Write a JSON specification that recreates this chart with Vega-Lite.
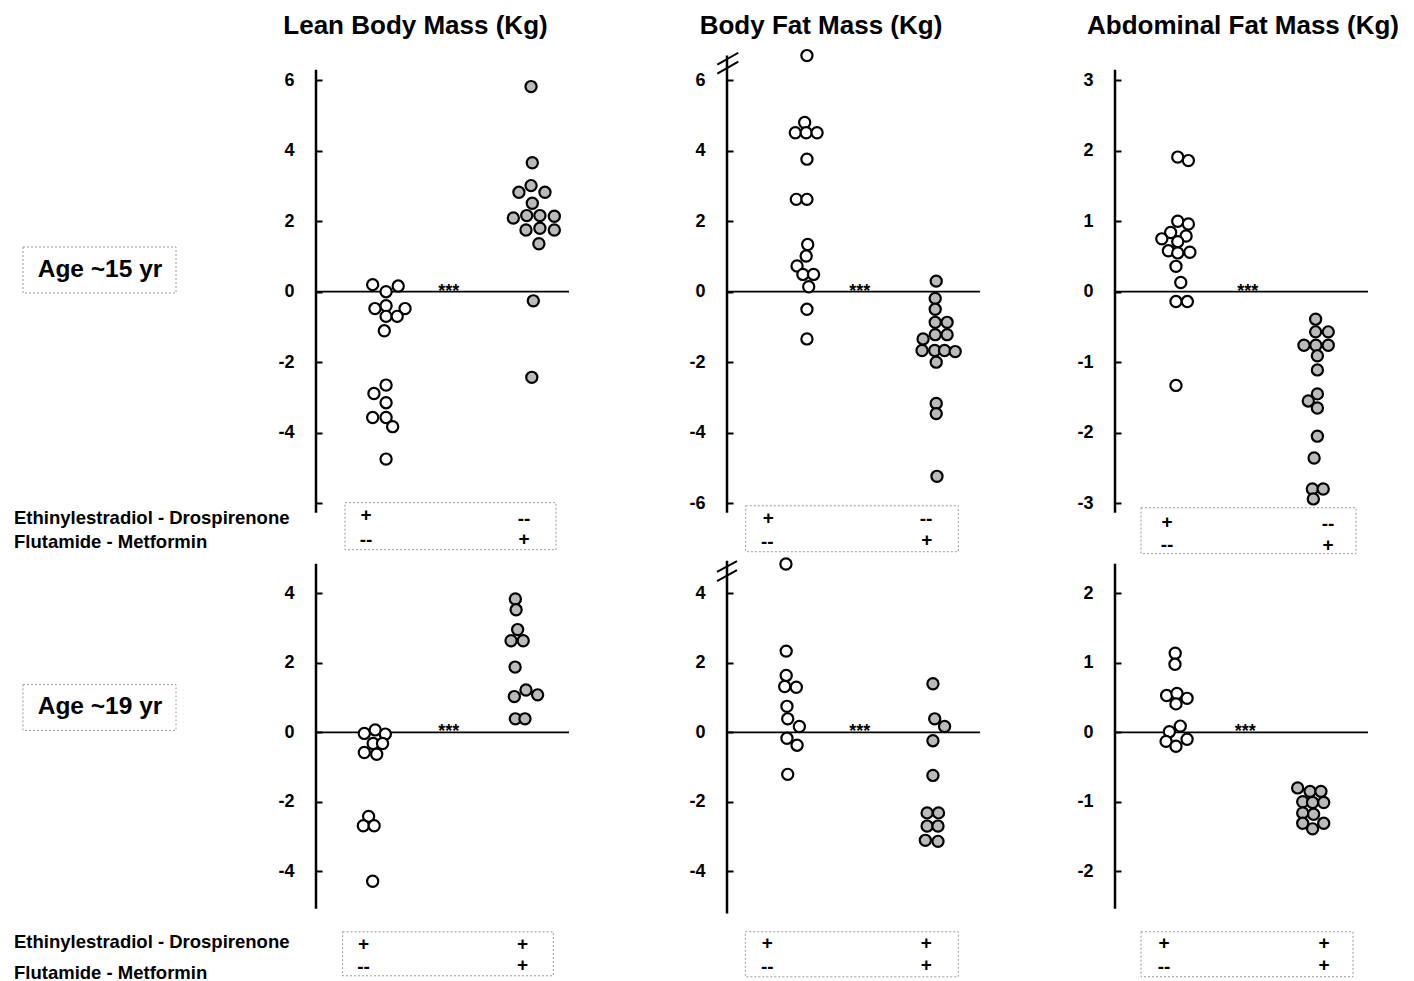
{
  "$schema": "https://vega.github.io/schema/vega-lite/v6.json",
  "background": "white",
  "padding": {"left": 0, "top": 13, "right": 0, "bottom": 0},
  "datasets": {
    "lean15": [
      {"treatment": "EE-DRSP", "pos": 2.24, "value": 0.20}, {"treatment": "EE-DRSP", "pos": 3.25, "value": 0.16},
      {"treatment": "EE-DRSP", "pos": 2.77, "value": 0.0}, {"treatment": "EE-DRSP", "pos": 2.33, "value": -0.48},
      {"treatment": "EE-DRSP", "pos": 2.77, "value": -0.40}, {"treatment": "EE-DRSP", "pos": 3.52, "value": -0.48},
      {"treatment": "EE-DRSP", "pos": 2.77, "value": -0.70}, {"treatment": "EE-DRSP", "pos": 3.21, "value": -0.70},
      {"treatment": "EE-DRSP", "pos": 2.70, "value": -1.11}, {"treatment": "EE-DRSP", "pos": 2.77, "value": -2.65},
      {"treatment": "EE-DRSP", "pos": 2.29, "value": -2.89}, {"treatment": "EE-DRSP", "pos": 2.77, "value": -3.15},
      {"treatment": "EE-DRSP", "pos": 2.24, "value": -3.57}, {"treatment": "EE-DRSP", "pos": 2.77, "value": -3.57},
      {"treatment": "EE-DRSP", "pos": 3.03, "value": -3.83}, {"treatment": "EE-DRSP", "pos": 2.77, "value": -4.75},
      {"treatment": "FLU-MET", "pos": 8.50, "value": 5.82}, {"treatment": "FLU-MET", "pos": 8.55, "value": 3.66},
      {"treatment": "FLU-MET", "pos": 8.50, "value": 3.01}, {"treatment": "FLU-MET", "pos": 8.02, "value": 2.82},
      {"treatment": "FLU-MET", "pos": 9.05, "value": 2.82}, {"treatment": "FLU-MET", "pos": 8.55, "value": 2.51},
      {"treatment": "FLU-MET", "pos": 7.80, "value": 2.09}, {"treatment": "FLU-MET", "pos": 8.33, "value": 2.16},
      {"treatment": "FLU-MET", "pos": 8.85, "value": 2.16}, {"treatment": "FLU-MET", "pos": 9.42, "value": 2.14},
      {"treatment": "FLU-MET", "pos": 8.30, "value": 1.75}, {"treatment": "FLU-MET", "pos": 8.85, "value": 1.80},
      {"treatment": "FLU-MET", "pos": 9.42, "value": 1.75}, {"treatment": "FLU-MET", "pos": 8.81, "value": 1.36},
      {"treatment": "FLU-MET", "pos": 8.59, "value": -0.26}, {"treatment": "FLU-MET", "pos": 8.53, "value": -2.43}
    ],
    "fat15": [
      {"treatment": "EE-DRSP", "pos": 3.16, "value": 6.7}, {"treatment": "EE-DRSP", "pos": 3.07, "value": 4.80},
      {"treatment": "EE-DRSP", "pos": 2.70, "value": 4.51}, {"treatment": "EE-DRSP", "pos": 3.13, "value": 4.51},
      {"treatment": "EE-DRSP", "pos": 3.56, "value": 4.51}, {"treatment": "EE-DRSP", "pos": 3.16, "value": 3.76},
      {"treatment": "EE-DRSP", "pos": 2.74, "value": 2.62}, {"treatment": "EE-DRSP", "pos": 3.16, "value": 2.62},
      {"treatment": "EE-DRSP", "pos": 3.19, "value": 1.34}, {"treatment": "EE-DRSP", "pos": 3.13, "value": 1.01},
      {"treatment": "EE-DRSP", "pos": 2.77, "value": 0.73}, {"treatment": "EE-DRSP", "pos": 3.00, "value": 0.49},
      {"treatment": "EE-DRSP", "pos": 3.42, "value": 0.49}, {"treatment": "EE-DRSP", "pos": 3.23, "value": 0.14},
      {"treatment": "EE-DRSP", "pos": 3.16, "value": -0.50}, {"treatment": "EE-DRSP", "pos": 3.16, "value": -1.34},
      {"treatment": "FLU-MET", "pos": 8.27, "value": 0.30}, {"treatment": "FLU-MET", "pos": 8.23, "value": -0.19},
      {"treatment": "FLU-MET", "pos": 8.23, "value": -0.50}, {"treatment": "FLU-MET", "pos": 8.23, "value": -0.87},
      {"treatment": "FLU-MET", "pos": 8.70, "value": -0.87}, {"treatment": "FLU-MET", "pos": 7.75, "value": -1.34},
      {"treatment": "FLU-MET", "pos": 8.23, "value": -1.22}, {"treatment": "FLU-MET", "pos": 8.70, "value": -1.22},
      {"treatment": "FLU-MET", "pos": 7.71, "value": -1.67}, {"treatment": "FLU-MET", "pos": 8.21, "value": -1.67},
      {"treatment": "FLU-MET", "pos": 8.60, "value": -1.67}, {"treatment": "FLU-MET", "pos": 9.02, "value": -1.70},
      {"treatment": "FLU-MET", "pos": 8.27, "value": -2.00}, {"treatment": "FLU-MET", "pos": 8.27, "value": -3.17},
      {"treatment": "FLU-MET", "pos": 8.27, "value": -3.46}, {"treatment": "FLU-MET", "pos": 8.30, "value": -5.24}
    ],
    "abd15": [
      {"treatment": "EE-DRSP", "pos": 2.48, "value": 1.91}, {"treatment": "EE-DRSP", "pos": 2.90, "value": 1.86},
      {"treatment": "EE-DRSP", "pos": 2.48, "value": 1.00}, {"treatment": "EE-DRSP", "pos": 2.90, "value": 0.96},
      {"treatment": "EE-DRSP", "pos": 2.20, "value": 0.84}, {"treatment": "EE-DRSP", "pos": 2.81, "value": 0.79},
      {"treatment": "EE-DRSP", "pos": 1.85, "value": 0.75}, {"treatment": "EE-DRSP", "pos": 2.48, "value": 0.71},
      {"treatment": "EE-DRSP", "pos": 2.11, "value": 0.58}, {"treatment": "EE-DRSP", "pos": 2.48, "value": 0.55},
      {"treatment": "EE-DRSP", "pos": 2.96, "value": 0.56}, {"treatment": "EE-DRSP", "pos": 2.41, "value": 0.36},
      {"treatment": "EE-DRSP", "pos": 2.60, "value": 0.13}, {"treatment": "EE-DRSP", "pos": 2.41, "value": -0.14},
      {"treatment": "EE-DRSP", "pos": 2.86, "value": -0.14}, {"treatment": "EE-DRSP", "pos": 2.41, "value": -1.33},
      {"treatment": "FLU-MET", "pos": 7.93, "value": -0.39}, {"treatment": "FLU-MET", "pos": 7.93, "value": -0.57},
      {"treatment": "FLU-MET", "pos": 8.43, "value": -0.57}, {"treatment": "FLU-MET", "pos": 7.47, "value": -0.76},
      {"treatment": "FLU-MET", "pos": 7.94, "value": -0.76}, {"treatment": "FLU-MET", "pos": 8.43, "value": -0.76},
      {"treatment": "FLU-MET", "pos": 8.00, "value": -0.91}, {"treatment": "FLU-MET", "pos": 8.00, "value": -1.11},
      {"treatment": "FLU-MET", "pos": 8.00, "value": -1.45}, {"treatment": "FLU-MET", "pos": 7.64, "value": -1.55},
      {"treatment": "FLU-MET", "pos": 8.00, "value": -1.65}, {"treatment": "FLU-MET", "pos": 8.00, "value": -2.05},
      {"treatment": "FLU-MET", "pos": 7.87, "value": -2.36}, {"treatment": "FLU-MET", "pos": 7.80, "value": -2.80},
      {"treatment": "FLU-MET", "pos": 8.23, "value": -2.80}, {"treatment": "FLU-MET", "pos": 7.84, "value": -2.94}
    ],
    "lean19": [
      {"treatment": "EE-DRSP", "pos": 1.91, "value": -0.03}, {"treatment": "EE-DRSP", "pos": 2.34, "value": 0.07},
      {"treatment": "EE-DRSP", "pos": 2.74, "value": -0.05}, {"treatment": "EE-DRSP", "pos": 2.26, "value": -0.32},
      {"treatment": "EE-DRSP", "pos": 2.63, "value": -0.32}, {"treatment": "EE-DRSP", "pos": 1.91, "value": -0.58},
      {"treatment": "EE-DRSP", "pos": 2.40, "value": -0.63}, {"treatment": "EE-DRSP", "pos": 2.08, "value": -2.42},
      {"treatment": "EE-DRSP", "pos": 1.87, "value": -2.69}, {"treatment": "EE-DRSP", "pos": 2.30, "value": -2.69},
      {"treatment": "EE-DRSP", "pos": 2.24, "value": -4.29},
      {"treatment": "EE-DRSP + FLU-MET", "pos": 7.88, "value": 3.84}, {"treatment": "EE-DRSP + FLU-MET", "pos": 7.91, "value": 3.53},
      {"treatment": "EE-DRSP + FLU-MET", "pos": 7.97, "value": 2.96}, {"treatment": "EE-DRSP + FLU-MET", "pos": 7.71, "value": 2.64},
      {"treatment": "EE-DRSP + FLU-MET", "pos": 8.19, "value": 2.64}, {"treatment": "EE-DRSP + FLU-MET", "pos": 7.87, "value": 1.88},
      {"treatment": "EE-DRSP + FLU-MET", "pos": 8.30, "value": 1.22}, {"treatment": "EE-DRSP + FLU-MET", "pos": 7.84, "value": 1.03},
      {"treatment": "EE-DRSP + FLU-MET", "pos": 8.76, "value": 1.08}, {"treatment": "EE-DRSP + FLU-MET", "pos": 7.88, "value": 0.39},
      {"treatment": "EE-DRSP + FLU-MET", "pos": 8.26, "value": 0.39}
    ],
    "fat19": [
      {"treatment": "EE-DRSP", "pos": 2.33, "value": 4.85}, {"treatment": "EE-DRSP", "pos": 2.34, "value": 2.34},
      {"treatment": "EE-DRSP", "pos": 2.34, "value": 1.64}, {"treatment": "EE-DRSP", "pos": 2.28, "value": 1.32},
      {"treatment": "EE-DRSP", "pos": 2.74, "value": 1.30}, {"treatment": "EE-DRSP", "pos": 2.37, "value": 0.75},
      {"treatment": "EE-DRSP", "pos": 2.40, "value": 0.39}, {"treatment": "EE-DRSP", "pos": 2.86, "value": 0.17},
      {"treatment": "EE-DRSP", "pos": 2.37, "value": -0.17}, {"treatment": "EE-DRSP", "pos": 2.77, "value": -0.37},
      {"treatment": "EE-DRSP", "pos": 2.40, "value": -1.21},
      {"treatment": "EE-DRSP + FLU-MET", "pos": 8.14, "value": 1.40}, {"treatment": "EE-DRSP + FLU-MET", "pos": 8.21, "value": 0.39},
      {"treatment": "EE-DRSP + FLU-MET", "pos": 8.60, "value": 0.17}, {"treatment": "EE-DRSP + FLU-MET", "pos": 8.14, "value": -0.24},
      {"treatment": "EE-DRSP + FLU-MET", "pos": 8.14, "value": -1.24}, {"treatment": "EE-DRSP + FLU-MET", "pos": 7.91, "value": -2.32},
      {"treatment": "EE-DRSP + FLU-MET", "pos": 8.36, "value": -2.32}, {"treatment": "EE-DRSP + FLU-MET", "pos": 7.91, "value": -2.70},
      {"treatment": "EE-DRSP + FLU-MET", "pos": 8.34, "value": -2.70}, {"treatment": "EE-DRSP + FLU-MET", "pos": 7.84, "value": -3.11},
      {"treatment": "EE-DRSP + FLU-MET", "pos": 8.34, "value": -3.14}
    ],
    "abd19": [
      {"treatment": "EE-DRSP", "pos": 2.38, "value": 1.14}, {"treatment": "EE-DRSP", "pos": 2.37, "value": 0.98},
      {"treatment": "EE-DRSP", "pos": 2.04, "value": 0.53}, {"treatment": "EE-DRSP", "pos": 2.45, "value": 0.56},
      {"treatment": "EE-DRSP", "pos": 2.85, "value": 0.49}, {"treatment": "EE-DRSP", "pos": 2.41, "value": 0.41},
      {"treatment": "EE-DRSP", "pos": 2.58, "value": 0.09}, {"treatment": "EE-DRSP", "pos": 2.15, "value": 0.01},
      {"treatment": "EE-DRSP", "pos": 2.85, "value": -0.10}, {"treatment": "EE-DRSP", "pos": 2.02, "value": -0.13},
      {"treatment": "EE-DRSP", "pos": 2.41, "value": -0.20},
      {"treatment": "EE-DRSP + FLU-MET", "pos": 7.22, "value": -0.80}, {"treatment": "EE-DRSP + FLU-MET", "pos": 7.71, "value": -0.85},
      {"treatment": "EE-DRSP + FLU-MET", "pos": 8.14, "value": -0.85}, {"treatment": "EE-DRSP + FLU-MET", "pos": 7.42, "value": -1.00},
      {"treatment": "EE-DRSP + FLU-MET", "pos": 7.81, "value": -1.01}, {"treatment": "EE-DRSP + FLU-MET", "pos": 8.25, "value": -1.01},
      {"treatment": "EE-DRSP + FLU-MET", "pos": 7.42, "value": -1.16}, {"treatment": "EE-DRSP + FLU-MET", "pos": 7.85, "value": -1.18},
      {"treatment": "EE-DRSP + FLU-MET", "pos": 7.42, "value": -1.31}, {"treatment": "EE-DRSP + FLU-MET", "pos": 8.25, "value": -1.31},
      {"treatment": "EE-DRSP + FLU-MET", "pos": 7.81, "value": -1.39}
    ]
  },
  "columns": 4,
  "spacing": {"row": 0, "column": 130},
  "bounds": "flush",
  "align": "each",
  "resolve": {"scale": {"x": "independent", "y": "independent", "color": "independent"}, "axis": {"x": "independent", "y": "independent"}},
  "concat": [
    {
      "width": 186, "height": 511,
      "layer": [
        {"data": {"values": [{}]}, "mark": {"type": "rect", "filled": false, "stroke": "#9a9a9a", "strokeDash": [2, 2], "strokeWidth": 1},
         "encoding": {"x": {"datum": 23, "type": "quantitative", "scale": {"domain": [0, 186], "nice": false, "zero": false}, "axis": null}, "x2": {"datum": 176}, "y": {"datum": 1.268, "type": "quantitative", "scale": {"domain": [-7.5, 7.0], "nice": false, "zero": false}, "axis": null}, "y2": {"datum": -0.037}}},
        {"data": {"values": [{"label": "Age ~15 yr"}]}, "mark": {"type": "text", "fontSize": 24.5, "fontWeight": "bold", "align": "center", "baseline": "middle"},
         "encoding": {"x": {"datum": 100, "type": "quantitative"}, "y": {"datum": 0.616, "type": "quantitative"}, "text": {"field": "label"}}},
        {"data": {"values": [{"label": "Ethinylestradiol - Drospirenone", "line": 1}]}, "mark": {"type": "text", "fontSize": 18.5, "fontWeight": "bold", "align": "left", "baseline": "middle"},
         "encoding": {"x": {"datum": 14, "type": "quantitative"}, "y": {"datum": -6.42, "type": "quantitative"}, "text": {"field": "label"}}},
        {"data": {"values": [{"label": "Flutamide - Metformin", "line": 2}]}, "mark": {"type": "text", "fontSize": 18.5, "fontWeight": "bold", "align": "left", "baseline": "middle"},
         "encoding": {"x": {"datum": 14, "type": "quantitative"}, "y": {"datum": -7.10, "type": "quantitative"}, "text": {"field": "label"}}}
      ]
    },
    {
      "width": 281, "height": 511,
      "title": {"text": "Lean Body Mass (Kg)", "dx": -41},
      "layer": [
        {"data": {"values": [{}]}, "mark": {"type": "rule", "color": "black", "strokeWidth": 2.5}, "encoding": {"x": {"datum": 0, "type": "quantitative"}, "y": {"datum": -6.27, "type": "quantitative"}, "y2": {"datum": 6.3}}},
        {"data": {"values": [{}]}, "mark": {"type": "rule", "color": "black", "strokeWidth": 1.8}, "encoding": {"x": {"datum": 0, "type": "quantitative"}, "x2": {"datum": 10}, "y": {"datum": 0, "type": "quantitative"}}},
        {"data": {"values": [{}]}, "mark": {"type": "text", "text": "***", "fontSize": 18, "fontWeight": "bold", "baseline": "alphabetic", "dy": 5}, "encoding": {"x": {"datum": 5.25, "type": "quantitative"}, "y": {"datum": 0, "type": "quantitative"}}},
        {"data": {"values": [{}]}, "mark": {"type": "rect", "filled": false, "stroke": "#9a9a9a", "strokeDash": [2, 2], "strokeWidth": 1}, "encoding": {"x": {"datum": 1.146, "type": "quantitative"}, "x2": {"datum": 9.486}, "y": {"datum": -5.987, "type": "quantitative"}, "y2": {"datum": -7.321}}},
        {"data": {"values": [{}]}, "mark": {"type": "text", "text": "+", "fontSize": 19, "fontWeight": "bold", "baseline": "middle"}, "encoding": {"x": {"datum": 1.976, "type": "quantitative"}, "y": {"datum": -6.33, "type": "quantitative"}}},
        {"data": {"values": [{}]}, "mark": {"type": "text", "text": "--", "fontSize": 19, "fontWeight": "bold", "baseline": "middle"}, "encoding": {"x": {"datum": 1.976, "type": "quantitative"}, "y": {"datum": -7.037, "type": "quantitative"}}},
        {"data": {"values": [{}]}, "mark": {"type": "text", "text": "--", "fontSize": 19, "fontWeight": "bold", "baseline": "middle"}, "encoding": {"x": {"datum": 8.221, "type": "quantitative"}, "y": {"datum": -6.442, "type": "quantitative"}}},
        {"data": {"values": [{}]}, "mark": {"type": "text", "text": "+", "fontSize": 19, "fontWeight": "bold", "baseline": "middle"}, "encoding": {"x": {"datum": 8.221, "type": "quantitative"}, "y": {"datum": -7.009, "type": "quantitative"}}},
        {"data": {"name": "lean15"}, "mark": {"type": "point", "shape": "circle", "filled": true, "stroke": "black", "strokeWidth": 2.2, "size": 125, "opacity": 1},
         "encoding": {
           "x": {"field": "pos", "type": "quantitative", "scale": {"domain": [0, 11.107], "nice": false, "zero": false}},
           "y": {"field": "value", "type": "quantitative", "scale": {"domain": [-7.5, 7.0], "nice": false, "zero": false}, "axis": {"values": [-6, -4, -2, 0, 2, 4, 6], "title": null, "labelExpr": "datum.value == -6 ? '' : (datum.value < 0 ? '-' + (-datum.value) : '' + datum.value)"}},
           "color": {"field": "treatment", "type": "nominal", "scale": {"domain": ["EE-DRSP", "FLU-MET", "EE-DRSP + FLU-MET"], "range": ["white", "#bababa", "#bababa"]}, "legend": null}
         }}
      ]
    },
    {
      "width": 258, "height": 511,
      "title": {"text": "Body Fat Mass (Kg)", "dx": -35},
      "layer": [
        {"data": {"values": [{}]}, "mark": {"type": "rule", "color": "black", "strokeWidth": 2.5}, "encoding": {"x": {"datum": 0, "type": "quantitative"}, "y": {"datum": -6.27, "type": "quantitative"}, "y2": {"datum": 6.7}}},
        {"data": {"values": [{}]}, "mark": {"type": "rule", "color": "black", "strokeWidth": 2}, "encoding": {"x": {"datum": -0.383, "type": "quantitative"}, "x2": {"datum": 0.447}, "y": {"datum": 6.186, "type": "quantitative"}, "y2": {"datum": 6.527}}},
        {"data": {"values": [{}]}, "mark": {"type": "rule", "color": "black", "strokeWidth": 2}, "encoding": {"x": {"datum": -0.383, "type": "quantitative"}, "x2": {"datum": 0.447}, "y": {"datum": 6.442, "type": "quantitative"}, "y2": {"datum": 6.78}}},
        {"data": {"values": [{}]}, "mark": {"type": "rule", "color": "black", "strokeWidth": 1.8}, "encoding": {"x": {"datum": 0, "type": "quantitative"}, "x2": {"datum": 10}, "y": {"datum": 0, "type": "quantitative"}}},
        {"data": {"values": [{}]}, "mark": {"type": "text", "text": "***", "fontSize": 18, "fontWeight": "bold", "baseline": "alphabetic", "dy": 5}, "encoding": {"x": {"datum": 5.25, "type": "quantitative"}, "y": {"datum": 0, "type": "quantitative"}}},
        {"data": {"values": [{}]}, "mark": {"type": "rect", "filled": false, "stroke": "#9a9a9a", "strokeDash": [2, 2], "strokeWidth": 1}, "encoding": {"x": {"datum": 0.739, "type": "quantitative"}, "x2": {"datum": 9.142}, "y": {"datum": -6.073, "type": "quantitative"}, "y2": {"datum": -7.378}}},
        {"data": {"values": [{}]}, "mark": {"type": "text", "text": "+", "fontSize": 19, "fontWeight": "bold", "baseline": "middle"}, "encoding": {"x": {"datum": 1.632, "type": "quantitative"}, "y": {"datum": -6.413, "type": "quantitative"}}},
        {"data": {"values": [{}]}, "mark": {"type": "text", "text": "--", "fontSize": 19, "fontWeight": "bold", "baseline": "middle"}, "encoding": {"x": {"datum": 1.593, "type": "quantitative"}, "y": {"datum": -7.114, "type": "quantitative"}}},
        {"data": {"values": [{}]}, "mark": {"type": "text", "text": "--", "fontSize": 19, "fontWeight": "bold", "baseline": "middle"}, "encoding": {"x": {"datum": 7.866, "type": "quantitative"}, "y": {"datum": -6.45, "type": "quantitative"}}},
        {"data": {"values": [{}]}, "mark": {"type": "text", "text": "+", "fontSize": 19, "fontWeight": "bold", "baseline": "middle"}, "encoding": {"x": {"datum": 7.893, "type": "quantitative"}, "y": {"datum": -7.046, "type": "quantitative"}}},
        {"data": {"name": "fat15"}, "mark": {"type": "point", "shape": "circle", "filled": true, "stroke": "black", "strokeWidth": 2.2, "size": 125, "opacity": 1},
         "encoding": {
           "x": {"field": "pos", "type": "quantitative", "scale": {"domain": [0, 10.198], "nice": false, "zero": false}},
           "y": {"field": "value", "type": "quantitative", "scale": {"domain": [-7.5, 7.0], "nice": false, "zero": false}, "axis": {"values": [-6, -4, -2, 0, 2, 4, 6], "title": null, "labelExpr": "datum.value < 0 ? '-' + (-datum.value) : '' + datum.value"}},
           "color": {"field": "treatment", "type": "nominal", "scale": {"domain": ["EE-DRSP", "FLU-MET", "EE-DRSP + FLU-MET"], "range": ["white", "#bababa", "#bababa"]}, "legend": null}
         }}
      ]
    },
    {
      "width": 254, "height": 511,
      "title": {"text": "Abdominal Fat Mass (Kg)", "dx": 1},
      "layer": [
        {"data": {"values": [{}]}, "mark": {"type": "rule", "color": "black", "strokeWidth": 2.5}, "encoding": {"x": {"datum": 0, "type": "quantitative"}, "y": {"datum": -3.136, "type": "quantitative"}, "y2": {"datum": 3.15}}},
        {"data": {"values": [{}]}, "mark": {"type": "rule", "color": "black", "strokeWidth": 1.8}, "encoding": {"x": {"datum": 0, "type": "quantitative"}, "x2": {"datum": 10}, "y": {"datum": 0, "type": "quantitative"}}},
        {"data": {"values": [{}]}, "mark": {"type": "text", "text": "***", "fontSize": 18, "fontWeight": "bold", "baseline": "alphabetic", "dy": 5}, "encoding": {"x": {"datum": 5.25, "type": "quantitative"}, "y": {"datum": 0, "type": "quantitative"}}},
        {"data": {"values": [{}]}, "mark": {"type": "rect", "filled": false, "stroke": "#9a9a9a", "strokeDash": [2, 2], "strokeWidth": 1}, "encoding": {"x": {"datum": 1.028, "type": "quantitative"}, "x2": {"datum": 9.526}, "y": {"datum": -3.065, "type": "quantitative"}, "y2": {"datum": -3.717}}},
        {"data": {"values": [{}]}, "mark": {"type": "text", "text": "+", "fontSize": 19, "fontWeight": "bold", "baseline": "middle"}, "encoding": {"x": {"datum": 2.055, "type": "quantitative"}, "y": {"datum": -3.263, "type": "quantitative"}}},
        {"data": {"values": [{}]}, "mark": {"type": "text", "text": "--", "fontSize": 19, "fontWeight": "bold", "baseline": "middle"}, "encoding": {"x": {"datum": 2.055, "type": "quantitative"}, "y": {"datum": -3.59, "type": "quantitative"}}},
        {"data": {"values": [{}]}, "mark": {"type": "text", "text": "--", "fontSize": 19, "fontWeight": "bold", "baseline": "middle"}, "encoding": {"x": {"datum": 8.419, "type": "quantitative"}, "y": {"datum": -3.292, "type": "quantitative"}}},
        {"data": {"values": [{}]}, "mark": {"type": "text", "text": "+", "fontSize": 19, "fontWeight": "bold", "baseline": "middle"}, "encoding": {"x": {"datum": 8.419, "type": "quantitative"}, "y": {"datum": -3.59, "type": "quantitative"}}},
        {"data": {"name": "abd15"}, "mark": {"type": "point", "shape": "circle", "filled": true, "stroke": "black", "strokeWidth": 2.2, "size": 125, "opacity": 1},
         "encoding": {
           "x": {"field": "pos", "type": "quantitative", "scale": {"domain": [0, 10.04], "nice": false, "zero": false}},
           "y": {"field": "value", "type": "quantitative", "scale": {"domain": [-3.75, 3.5], "nice": false, "zero": false}, "axis": {"values": [-3, -2, -1, 0, 1, 2, 3], "title": null, "labelExpr": "datum.value < 0 ? '-' + (-datum.value) : '' + datum.value"}},
           "color": {"field": "treatment", "type": "nominal", "scale": {"domain": ["EE-DRSP", "FLU-MET", "EE-DRSP + FLU-MET"], "range": ["white", "#bababa", "#bababa"]}, "legend": null}
         }}
      ]
    },
    {
      "width": 186, "height": 427,
      "layer": [
        {"data": {"values": [{}]}, "mark": {"type": "rect", "filled": false, "stroke": "#9a9a9a", "strokeDash": [2, 2], "strokeWidth": 1},
         "encoding": {"x": {"datum": 23, "type": "quantitative", "scale": {"domain": [0, 186], "nice": false, "zero": false}, "axis": null}, "x2": {"datum": 176}, "y": {"datum": 1.38, "type": "quantitative", "scale": {"domain": [-7.22, 5.08], "nice": false, "zero": false}, "axis": null}, "y2": {"datum": 0.055}}},
        {"data": {"values": [{"label": "Age ~19 yr"}]}, "mark": {"type": "text", "fontSize": 24.5, "fontWeight": "bold", "align": "center", "baseline": "middle"},
         "encoding": {"x": {"datum": 100, "type": "quantitative"}, "y": {"datum": 0.73, "type": "quantitative"}, "text": {"field": "label"}}},
        {"data": {"values": [{"label": "Ethinylestradiol - Drospirenone", "line": 1}]}, "mark": {"type": "text", "fontSize": 18.5, "fontWeight": "bold", "align": "left", "baseline": "middle"},
         "encoding": {"x": {"datum": 14, "type": "quantitative"}, "y": {"datum": -6.04, "type": "quantitative"}, "text": {"field": "label"}}},
        {"data": {"values": [{"label": "Flutamide - Metformin", "line": 2}]}, "mark": {"type": "text", "fontSize": 18.5, "fontWeight": "bold", "align": "left", "baseline": "middle"},
         "encoding": {"x": {"datum": 14, "type": "quantitative"}, "y": {"datum": -6.93, "type": "quantitative"}, "text": {"field": "label"}}}
      ]
    },
    {
      "width": 281, "height": 427,
      "layer": [
        {"data": {"values": [{}]}, "mark": {"type": "rule", "color": "black", "strokeWidth": 2.5}, "encoding": {"x": {"datum": 0, "type": "quantitative"}, "y": {"datum": -5.08, "type": "quantitative"}, "y2": {"datum": 4.857}}},
        {"data": {"values": [{}]}, "mark": {"type": "rule", "color": "black", "strokeWidth": 1.8}, "encoding": {"x": {"datum": 0, "type": "quantitative"}, "x2": {"datum": 10}, "y": {"datum": 0, "type": "quantitative"}}},
        {"data": {"values": [{}]}, "mark": {"type": "text", "text": "***", "fontSize": 18, "fontWeight": "bold", "baseline": "alphabetic", "dy": 5}, "encoding": {"x": {"datum": 5.25, "type": "quantitative"}, "y": {"datum": 0, "type": "quantitative"}}},
        {"data": {"values": [{}]}, "mark": {"type": "rect", "filled": false, "stroke": "#9a9a9a", "strokeDash": [2, 2], "strokeWidth": 1}, "encoding": {"x": {"datum": 1.051, "type": "quantitative"}, "x2": {"datum": 9.379}, "y": {"datum": -5.744, "type": "quantitative"}, "y2": {"datum": -7.012}}},
        {"data": {"values": [{}]}, "mark": {"type": "text", "text": "+", "fontSize": 19, "fontWeight": "bold", "baseline": "middle"}, "encoding": {"x": {"datum": 1.881, "type": "quantitative"}, "y": {"datum": -6.11, "type": "quantitative"}}},
        {"data": {"values": [{}]}, "mark": {"type": "text", "text": "--", "fontSize": 19, "fontWeight": "bold", "baseline": "middle"}, "encoding": {"x": {"datum": 1.881, "type": "quantitative"}, "y": {"datum": -6.772, "type": "quantitative"}}},
        {"data": {"values": [{}]}, "mark": {"type": "text", "text": "+", "fontSize": 19, "fontWeight": "bold", "baseline": "middle"}, "encoding": {"x": {"datum": 8.166, "type": "quantitative"}, "y": {"datum": -6.11, "type": "quantitative"}}},
        {"data": {"values": [{}]}, "mark": {"type": "text", "text": "+", "fontSize": 19, "fontWeight": "bold", "baseline": "middle"}, "encoding": {"x": {"datum": 8.166, "type": "quantitative"}, "y": {"datum": -6.703, "type": "quantitative"}}},
        {"data": {"name": "lean19"}, "mark": {"type": "point", "shape": "circle", "filled": true, "stroke": "black", "strokeWidth": 2.2, "size": 125, "opacity": 1},
         "encoding": {
           "x": {"field": "pos", "type": "quantitative", "scale": {"domain": [0, 11.107], "nice": false, "zero": false}},
           "y": {"field": "value", "type": "quantitative", "scale": {"domain": [-7.22, 5.08], "nice": false, "zero": false}, "axis": {"values": [-4, -2, 0, 2, 4], "title": null, "labelExpr": "datum.value < 0 ? '-' + (-datum.value) : '' + datum.value"}},
           "color": {"field": "treatment", "type": "nominal", "scale": {"domain": ["EE-DRSP", "FLU-MET", "EE-DRSP + FLU-MET"], "range": ["white", "#bababa", "#bababa"]}, "legend": null}
         }}
      ]
    },
    {
      "width": 258, "height": 427,
      "layer": [
        {"data": {"values": [{}]}, "mark": {"type": "rule", "color": "black", "strokeWidth": 2.5}, "encoding": {"x": {"datum": 0, "type": "quantitative"}, "y": {"datum": -5.22, "type": "quantitative"}, "y2": {"datum": 4.94}}},
        {"data": {"values": [{}]}, "mark": {"type": "rule", "color": "black", "strokeWidth": 2}, "encoding": {"x": {"datum": -0.395, "type": "quantitative"}, "x2": {"datum": 0.395}, "y": {"datum": 4.626, "type": "quantitative"}, "y2": {"datum": 4.934}}},
        {"data": {"values": [{}]}, "mark": {"type": "rule", "color": "black", "strokeWidth": 2}, "encoding": {"x": {"datum": -0.395, "type": "quantitative"}, "x2": {"datum": 0.395}, "y": {"datum": 4.358, "type": "quantitative"}, "y2": {"datum": 4.675}}},
        {"data": {"values": [{}]}, "mark": {"type": "rule", "color": "black", "strokeWidth": 1.8}, "encoding": {"x": {"datum": 0, "type": "quantitative"}, "x2": {"datum": 10}, "y": {"datum": 0, "type": "quantitative"}}},
        {"data": {"values": [{}]}, "mark": {"type": "text", "text": "***", "fontSize": 18, "fontWeight": "bold", "baseline": "alphabetic", "dy": 5}, "encoding": {"x": {"datum": 5.25, "type": "quantitative"}, "y": {"datum": 0, "type": "quantitative"}}},
        {"data": {"values": [{}]}, "mark": {"type": "rect", "filled": false, "stroke": "#9a9a9a", "strokeDash": [2, 2], "strokeWidth": 1}, "encoding": {"x": {"datum": 0.723, "type": "quantitative"}, "x2": {"datum": 9.142}, "y": {"datum": -5.744, "type": "quantitative"}, "y2": {"datum": -7.041}}},
        {"data": {"values": [{}]}, "mark": {"type": "text", "text": "+", "fontSize": 19, "fontWeight": "bold", "baseline": "middle"}, "encoding": {"x": {"datum": 1.593, "type": "quantitative"}, "y": {"datum": -6.061, "type": "quantitative"}}},
        {"data": {"values": [{}]}, "mark": {"type": "text", "text": "--", "fontSize": 19, "fontWeight": "bold", "baseline": "middle"}, "encoding": {"x": {"datum": 1.593, "type": "quantitative"}, "y": {"datum": -6.752, "type": "quantitative"}}},
        {"data": {"values": [{}]}, "mark": {"type": "text", "text": "+", "fontSize": 19, "fontWeight": "bold", "baseline": "middle"}, "encoding": {"x": {"datum": 7.877, "type": "quantitative"}, "y": {"datum": -6.061, "type": "quantitative"}}},
        {"data": {"values": [{}]}, "mark": {"type": "text", "text": "+", "fontSize": 19, "fontWeight": "bold", "baseline": "middle"}, "encoding": {"x": {"datum": 7.877, "type": "quantitative"}, "y": {"datum": -6.694, "type": "quantitative"}}},
        {"data": {"name": "fat19"}, "mark": {"type": "point", "shape": "circle", "filled": true, "stroke": "black", "strokeWidth": 2.2, "size": 125, "opacity": 1},
         "encoding": {
           "x": {"field": "pos", "type": "quantitative", "scale": {"domain": [0, 10.198], "nice": false, "zero": false}},
           "y": {"field": "value", "type": "quantitative", "scale": {"domain": [-7.22, 5.08], "nice": false, "zero": false}, "axis": {"values": [-4, -2, 0, 2, 4], "title": null, "labelExpr": "datum.value < 0 ? '-' + (-datum.value) : '' + datum.value"}},
           "color": {"field": "treatment", "type": "nominal", "scale": {"domain": ["EE-DRSP", "FLU-MET", "EE-DRSP + FLU-MET"], "range": ["white", "#bababa", "#bababa"]}, "legend": null}
         }}
      ]
    },
    {
      "width": 254, "height": 427,
      "layer": [
        {"data": {"values": [{}]}, "mark": {"type": "rule", "color": "black", "strokeWidth": 2.5}, "encoding": {"x": {"datum": 0, "type": "quantitative"}, "y": {"datum": -2.54, "type": "quantitative"}, "y2": {"datum": 2.428}}},
        {"data": {"values": [{}]}, "mark": {"type": "rule", "color": "black", "strokeWidth": 1.8}, "encoding": {"x": {"datum": 0, "type": "quantitative"}, "x2": {"datum": 10}, "y": {"datum": 0, "type": "quantitative"}}},
        {"data": {"values": [{}]}, "mark": {"type": "text", "text": "***", "fontSize": 18, "fontWeight": "bold", "baseline": "alphabetic", "dy": 5}, "encoding": {"x": {"datum": 5.15, "type": "quantitative"}, "y": {"datum": 0, "type": "quantitative"}}},
        {"data": {"values": [{}]}, "mark": {"type": "rect", "filled": false, "stroke": "#9a9a9a", "strokeDash": [2, 2], "strokeWidth": 1}, "encoding": {"x": {"datum": 1.028, "type": "quantitative"}, "x2": {"datum": 9.407}, "y": {"datum": -2.872, "type": "quantitative"}, "y2": {"datum": -3.52}}},
        {"data": {"values": [{}]}, "mark": {"type": "text", "text": "+", "fontSize": 19, "fontWeight": "bold", "baseline": "middle"}, "encoding": {"x": {"datum": 1.937, "type": "quantitative"}, "y": {"datum": -3.03, "type": "quantitative"}}},
        {"data": {"values": [{}]}, "mark": {"type": "text", "text": "--", "fontSize": 19, "fontWeight": "bold", "baseline": "middle"}, "encoding": {"x": {"datum": 1.937, "type": "quantitative"}, "y": {"datum": -3.376, "type": "quantitative"}}},
        {"data": {"values": [{}]}, "mark": {"type": "text", "text": "+", "fontSize": 19, "fontWeight": "bold", "baseline": "middle"}, "encoding": {"x": {"datum": 8.261, "type": "quantitative"}, "y": {"datum": -3.03, "type": "quantitative"}}},
        {"data": {"values": [{}]}, "mark": {"type": "text", "text": "+", "fontSize": 19, "fontWeight": "bold", "baseline": "middle"}, "encoding": {"x": {"datum": 8.261, "type": "quantitative"}, "y": {"datum": -3.347, "type": "quantitative"}}},
        {"data": {"name": "abd19"}, "mark": {"type": "point", "shape": "circle", "filled": true, "stroke": "black", "strokeWidth": 2.2, "size": 125, "opacity": 1},
         "encoding": {
           "x": {"field": "pos", "type": "quantitative", "scale": {"domain": [0, 10.04], "nice": false, "zero": false}},
           "y": {"field": "value", "type": "quantitative", "scale": {"domain": [-3.61, 2.54], "nice": false, "zero": false}, "axis": {"values": [-2, -1, 0, 1, 2], "title": null, "labelExpr": "datum.value < 0 ? '-' + (-datum.value) : '' + datum.value"}},
           "color": {"field": "treatment", "type": "nominal", "scale": {"domain": ["EE-DRSP", "FLU-MET", "EE-DRSP + FLU-MET"], "range": ["white", "#bababa", "#bababa"]}, "legend": null}
         }}
      ]
    }
  ],
  "config": {
    "font": "Liberation Sans",
    "view": {"stroke": null},
    "text": {"color": "black", "font": "Liberation Sans"},
    "title": {"font": "Liberation Sans", "fontSize": 26, "fontWeight": "bold", "color": "black", "anchor": "middle", "frame": "group", "offset": 6},
    "axisX": {"disable": true},
    "axisY": {"domain": false, "grid": false, "ticks": true, "tickSize": -6, "tickWidth": 2, "tickColor": "black", "labelFont": "Liberation Sans", "labelFontSize": 18, "labelFontWeight": "bold", "labelColor": "black", "labelPadding": 28}
  }
}
